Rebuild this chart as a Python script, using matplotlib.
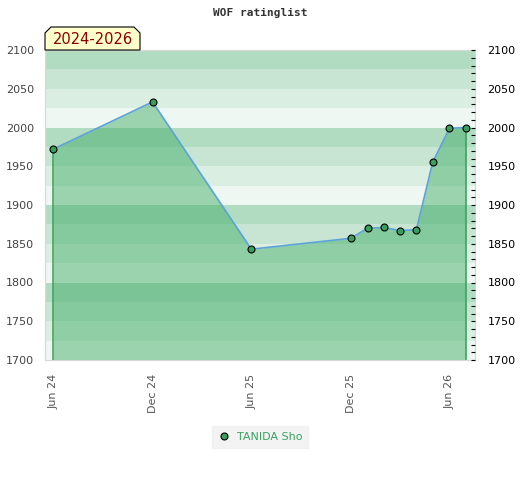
import matplotlib
matplotlib.use("Agg")
import matplotlib.pyplot as plt
import matplotlib.dates as mdates
from matplotlib.patches import Polygon
from matplotlib.ticker import MultipleLocator
import numpy as np
from datetime import datetime

# данные рейтинга
dates = ["2024-06-01", "2024-12-01", "2025-06-01", "2025-12-01", "2026-01-01",
         "2026-02-01", "2026-03-01", "2026-04-01", "2026-05-01", "2026-06-01",
         "2026-07-01"]
ratings = [1972, 2033, 1843, 1857, 1870, 1871, 1867, 1868, 1955, 1999, 2000]
player = "TANIDA Sho"
title = "WOF ratinglist"
period = "2024-2026"
tick_dates = ["2024-06-01", "2024-12-01", "2025-06-01", "2025-12-01", "2026-06-01"]

x = [datetime.strptime(d, "%Y-%m-%d") for d in dates]
xt = [datetime.strptime(d, "%Y-%m-%d") for d in tick_dates]

ymin, ymax = 1700, 2100
band_colors = ["#b2dcc2", "#c7e5d2", "#dbeee2", "#eef7f1"]

fig = plt.figure(figsize=(5.2, 4.8), dpi=100)
ax = fig.add_axes([45 / 520, 1 - 360 / 480, 430 / 520, 310 / 480])

# полосы фона
for i, lo in enumerate(range(ymax - 25, ymin - 1, -25)):
    ax.axhspan(lo, lo + 25, color=band_colors[i % 4], lw=0, zorder=0)

fill_c = "#3cab64"
ax.fill_between(x, ratings, ymin, color=fill_c, alpha=0.47, lw=0, zorder=1)
ax.plot(x, ratings, color="#5ba3d9", lw=1.2, zorder=3)
ax.vlines([x[0], x[-1]], ymin, [ratings[0], ratings[-1]], color="#36a157", lw=1.1, zorder=2)
ax.plot(x, ratings, ls="none", marker="o", ms=5, mfc="#3a9f5c", mec="black", mew=0.8,
        zorder=4, label=player)

ax.set_ylim(ymin, ymax)
ax.set_xlim(datetime(2024, 5, 17), datetime(2026, 7, 18))
ax.set_xticks(xt)
ax.xaxis.set_major_formatter(mdates.DateFormatter("%b %y"))
ax.tick_params(axis="x", rotation=90, length=0, labelsize=8, labelcolor="#555555", pad=10)
ax.yaxis.set_major_locator(MultipleLocator(50))
ax.tick_params(axis="y", length=0, labelsize=8, labelcolor="#444444", pad=8)

for s in ax.spines.values():
    s.set_color("#d8d8d8")

ax2 = ax.twinx()
ax2.set_ylim(ymin, ymax)
ax2.yaxis.set_major_locator(MultipleLocator(50))
ax2.yaxis.set_minor_locator(MultipleLocator(10))
ax2.tick_params(axis="y", which="major", direction="in", length=3, width=0.8,
                labelsize=8, labelcolor="black", pad=9)
ax2.tick_params(axis="y", which="minor", direction="in", length=3, width=0.8)
for s in ax2.spines.values():
    s.set_visible(False)

fig.text(0.5, 1 - 13 / 480, title, ha="center", va="center", fontsize=8,
         family="DejaVu Sans Mono", weight="bold", color="#333333")

# табличка с периодом
px = np.array([45, 45, 51, 134, 140, 140]) / 520
py = 1 - np.array([50, 33, 27, 27, 33, 50]) / 480
fig.patches.append(Polygon(np.column_stack([px, py]), closed=True, transform=fig.transFigure,
                           facecolor="#ffffcc", edgecolor="black", lw=0.8, zorder=5))
fig.text(92.5 / 520, 1 - 40 / 480, period, ha="center", va="center", fontsize=10.5,
         color="#8b0000", zorder=6)

leg = fig.legend(loc="center", bbox_to_anchor=(260 / 520, 1 - 437 / 480), frameon=True,
                 fontsize=8, handletextpad=0.6, borderpad=0.5, handlelength=1.2,
                 borderaxespad=0, fancybox=False)
leg.get_frame().set_facecolor("#f0f0f0")
leg.get_frame().set_edgecolor("#f0f0f0")
for t in leg.get_texts():
    t.set_color("#3aa35f")

fig.savefig("out.png", dpi=100)
